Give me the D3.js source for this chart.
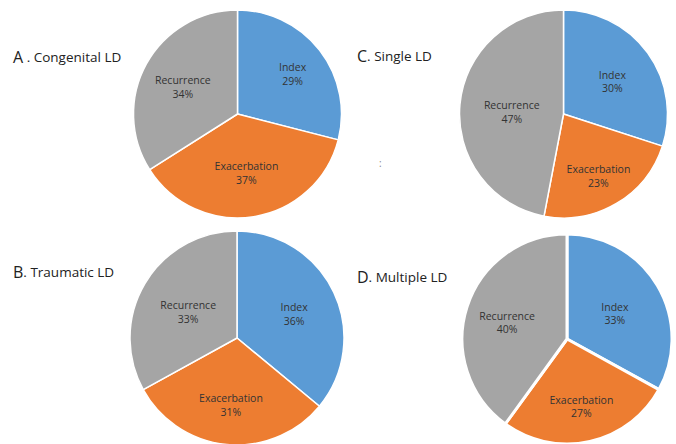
<!DOCTYPE html>
<meta charset="utf-8">
<html>
<head>
<script src="https://d3js.org/d3.v7.min.js"></script>
<style>
  body { margin: 0; background: #fff; }
  text { font-family: "Open Sans", "Noto Sans", sans-serif; }
</style>
</head>
<body>
<script>

// slice categories, in drawing order (clockwise from 12 o'clock)
var categories = ["Index", "Exacerbation", "Recurrence"];
var colors = ["#5b9bd5", "#ed7d31", "#a5a5a5"];

// percentages per panel
var congenitalLD = [29, 37, 34];
var traumaticLD  = [36, 31, 33];
var singleLD     = [30, 23, 47];
var multipleLD   = [33, 27, 40];

var panelTitles = ["A . Congenital LD", "B. Traumatic LD", "C. Single LD", "D. Multiple LD"];

var width = 676, height = 444;

var svg = d3.select("body").append("svg")
  .attr("width", width)
  .attr("height", height);

// layout of each panel (lr = label distance as fraction of radius, per slice)
var panels = [
  { values: congenitalLD, title: panelTitles[0], cx: 237.5, cy: 114, r: 104, tx: 13,  ty: 62,  sw: 1.5, lr: [0.67, 0.55, 0.60] },
  { values: traumaticLD,  title: panelTitles[1], cx: 237,   cy: 338, r: 107, tx: 13,  ty: 277, sw: 1.5, lr: [0.59, 0.60, 0.53] },
  { values: singleLD,     title: panelTitles[2], cx: 563.5, cy: 114, r: 104, tx: 357, ty: 61,  sw: 1.5, lr: [0.58, 0.66, 0.50] },
  { values: multipleLD,   title: panelTitles[3], cx: 567,   cy: 339, r: 105, tx: 357, ty: 282, sw: 3,   lr: [0.53, 0.63, 0.60] }
];

var pie = d3.pie().sort(null).value(function(d) { return d.value; });

panels.forEach(function(p) {
  var data = categories.map(function(c, i) { return { name: c, value: p.values[i], color: colors[i] }; });
  var arcs = pie(data);
  var arc = d3.arc().innerRadius(0).outerRadius(p.r);

  var g = svg.append("g").attr("transform", "translate(" + p.cx + "," + p.cy + ")");

  g.selectAll("path")
    .data(arcs)
    .enter()
    .append("path")
    .attr("d", arc)
    .attr("fill", function(d) { return d.data.color; })
    .attr("stroke", "#fff")
    .attr("stroke-width", p.sw)
    .attr("stroke-linejoin", "round");

  var lbl = g.selectAll("text.lbl")
    .data(arcs)
    .enter()
    .append("text")
    .attr("class", "lbl")
    .attr("transform", function(d, i) {
      var rr = p.r * p.lr[i];
      var c = d3.arc().innerRadius(rr).outerRadius(rr).centroid(d);
      return "translate(" + c + ")";
    })
    .attr("text-anchor", "middle")
    .style("font-size", "10.5px")
    .style("fill", "#333");

  lbl.append("tspan").attr("x", 0).attr("dy", "0em").text(function(d) { return d.data.name; });
  lbl.append("tspan").attr("x", 0).attr("dy", "1.3em").text(function(d) { return d.data.value + "%"; });

  // title: panel letter drawn a bit larger than the rest
  var t = svg.append("text")
    .attr("x", p.tx)
    .attr("y", p.ty)
    .style("fill", "#222");
  t.append("tspan").style("font-size", "16px").attr("dy", "1").text(p.title.charAt(0));
  t.append("tspan").style("font-size", "13.5px").attr("dy", "-1").text(p.title.slice(1));
});

// stray mark between the panels
svg.append("text")
  .attr("x", 379)
  .attr("y", 167)
  .style("font-size", "10px")
  .style("fill", "#888")
  .text(":");

</script>
</body>
</html>
